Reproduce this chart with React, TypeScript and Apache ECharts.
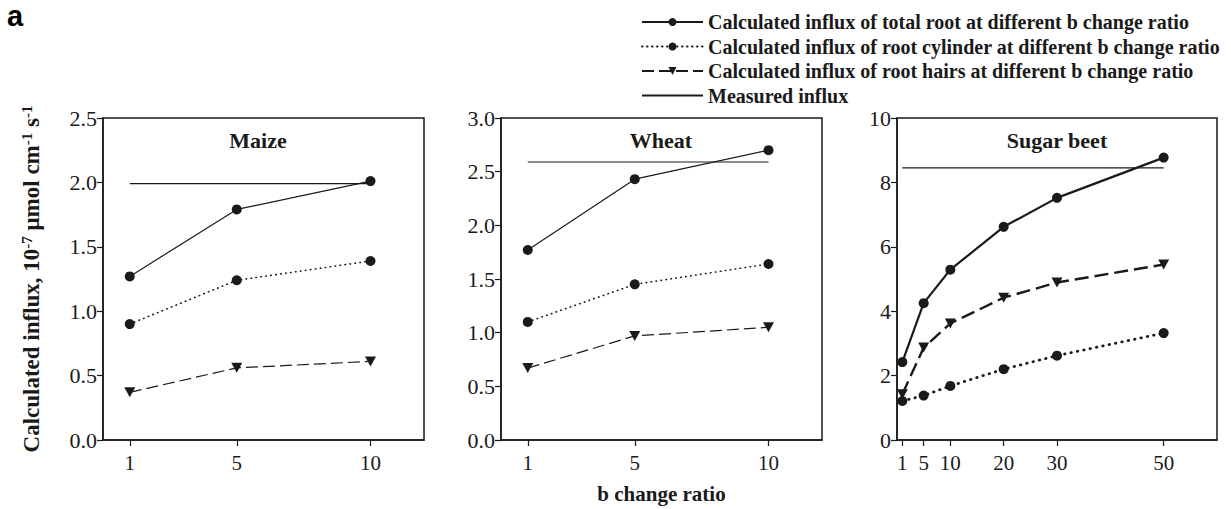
import React, { useEffect, useRef } from "react";
import * as echarts from "echarts";

// ---- data ----
const maizeX = [1, 5, 10];
const maizeTotal = [1.27, 1.79, 2.01];
const maizeCylinder = [0.9, 1.24, 1.39];
const maizeHairs = [0.37, 0.56, 0.61];
const maizeMeasured = 1.99;

const wheatX = [1, 5, 10];
const wheatTotal = [1.77, 2.43, 2.7];
const wheatCylinder = [1.1, 1.45, 1.64];
const wheatHairs = [0.67, 0.97, 1.05];
const wheatMeasured = 2.59;

const beetX = [1, 5, 10, 20, 30, 50];
const beetTotal = [2.42, 4.25, 5.29, 6.62, 7.52, 8.77];
const beetCylinder = [1.21, 1.38, 1.68, 2.2, 2.62, 3.32];
const beetHairs = [1.42, 2.87, 3.62, 4.42, 4.89, 5.45];
const beetMeasured = 8.45;

const panelTitles = ["Maize", "Wheat", "Sugar beet"];
const smallTicks = [1, 5, 10];
const beetTicks = [1, 5, 10, 20, 30, 50];

const NAME_TOTAL = "Calculated influx of total root at different b change ratio";
const NAME_CYL = "Calculated influx of root cylinder at different b change ratio";
const NAME_HAIRS = "Calculated influx of root hairs at different b change ratio";
const NAME_MEAS = "Measured influx";

const SERIF = "'Liberation Serif', 'Times New Roman', serif";
const INK = "#1a1a1a";

const zip = (xs: number[], ys: number[]) => xs.map((x, i) => [x, ys[i]]);

function App() {
  const ref = useRef<HTMLDivElement>(null);
  useEffect(() => {
    if (!ref.current) return;
    const chart = echarts.init(ref.current, null, { renderer: "svg" });

    const grids = [
      { left: 103, top: 118, width: 321, height: 322 },
      { left: 501, top: 118, width: 321, height: 322 },
      { left: 897, top: 118, width: 320, height: 322 },
    ].map((g) => ({ ...g, show: true, borderColor: INK, borderWidth: 1.5, backgroundColor: "transparent" }));

    const axisCommon = {
      axisLine: { show: true, onZero: false, lineStyle: { color: INK, width: 1.5 } },
      axisTick: { show: true, inside: false, length: 6, lineStyle: { color: INK, width: 1.2 } },
      splitLine: { show: false },
      axisLabel: { color: INK, fontFamily: SERIF, fontSize: 21 },
    };

    const xAxes = [
      { gridIndex: 0, max: 12, ticks: smallTicks },
      { gridIndex: 1, max: 12, ticks: smallTicks },
      { gridIndex: 2, max: 60, ticks: beetTicks },
    ].map((a, i) => ({
      type: "value",
      gridIndex: a.gridIndex,
      min: 0,
      max: a.max,
      ...axisCommon,
      axisTick: { ...axisCommon.axisTick, customValues: a.ticks },
      axisLabel: { ...axisCommon.axisLabel, margin: 12, customValues: a.ticks },
      ...(i === 1
        ? {
            name: "b change ratio",
            nameLocation: "middle",
            nameGap: 43,
            nameTextStyle: { fontFamily: SERIF, fontWeight: "bold", fontSize: 21, color: INK },
          }
        : {}),
    }));

    const yAxes = [
      { gridIndex: 0, max: 2.5, interval: 0.5, dec: 1 },
      { gridIndex: 1, max: 3.0, interval: 0.5, dec: 1 },
      { gridIndex: 2, max: 10, interval: 2, dec: 0 },
    ].map((a, i) => ({
      type: "value",
      gridIndex: a.gridIndex,
      min: 0,
      max: a.max,
      interval: a.interval,
      ...axisCommon,
      axisLabel: {
        ...axisCommon.axisLabel,
        fontSize: 22,
        margin: 6,
        formatter: (v: number) => v.toFixed(a.dec),
      },
      ...(i === 0
        ? {
            name: "Calculated influx, 10{sup|-7} μmol cm{sup|-1} s{sup|-1}",
            nameLocation: "middle",
            nameRotate: 90,
            nameGap: 60,
            nameTextStyle: {
              fontFamily: SERIF,
              fontWeight: "bold",
              fontSize: 23,
              color: INK,
              rich: {
                sup: {
                  fontFamily: SERIF,
                  fontWeight: "bold",
                  fontSize: 15,
                  color: INK,
                  verticalAlign: "top",
                  padding: [0, 0, 9, 0],
                },
              },
            },
          }
        : {}),
    }));

    const mk = (
      idx: number,
      xs: number[],
      total: number[],
      cyl: number[],
      hairs: number[],
      measured: number,
      thick: boolean
    ) => {
      const w = thick ? 2.2 : 1.2;
      return [
        {
          name: NAME_TOTAL,
          type: "line",
          xAxisIndex: idx,
          yAxisIndex: idx,
          data: zip(xs, total),
          symbol: "circle",
          symbolSize: 10,
          itemStyle: { color: INK },
          lineStyle: { color: INK, width: w, type: "solid" },
          z: 5,
        },
        {
          name: NAME_CYL,
          type: "line",
          xAxisIndex: idx,
          yAxisIndex: idx,
          data: zip(xs, cyl),
          symbol: "circle",
          symbolSize: 10,
          itemStyle: { color: INK },
          lineStyle: {
            color: INK,
            width: thick ? 2.8 : 1.6,
            cap: "round",
            type: thick ? [0.5, 6] : [0.5, 4.5],
          },
          z: 4,
        },
        {
          name: NAME_HAIRS,
          type: "line",
          xAxisIndex: idx,
          yAxisIndex: idx,
          data: zip(xs, hairs),
          symbol: "triangle",
          symbolRotate: 180,
          symbolSize: [11, 10],
          itemStyle: { color: INK },
          lineStyle: { color: INK, width: thick ? 2.4 : 1.2, type: thick ? [14, 6] : [12, 5] },
          z: 4,
        },
        {
          name: NAME_MEAS,
          type: "line",
          xAxisIndex: idx,
          yAxisIndex: idx,
          data: [
            [xs[0], measured],
            [xs[xs.length - 1], measured],
          ],
          symbol: "none",
          itemStyle: { color: INK, opacity: 0 },
          lineStyle: { color: INK, width: 1.2, type: "solid", opacity: 1 },
          z: 3,
        },
      ];
    };

    const series = [
      ...mk(0, maizeX, maizeTotal, maizeCylinder, maizeHairs, maizeMeasured, false),
      ...mk(1, wheatX, wheatTotal, wheatCylinder, wheatHairs, wheatMeasured, false),
      ...mk(2, beetX, beetTotal, beetCylinder, beetHairs, beetMeasured, true),
    ];

    const titleCenters = [258, 661, 1057];

    chart.setOption({
      animation: false,
      backgroundColor: "#ffffff",
      grid: grids,
      xAxis: xAxes,
      yAxis: yAxes,
      series,
      legend: {
        orient: "vertical",
        left: 636,
        top: 7,
        itemWidth: 61,
        itemHeight: 10,
        itemGap: 4.5,
        data: [NAME_TOTAL, NAME_CYL, NAME_HAIRS, NAME_MEAS],
        textStyle: { fontFamily: SERIF, fontWeight: "bold", fontSize: 20, color: INK },
        selectedMode: false,
      },
      graphic: [
        {
          type: "text",
          x: 7,
          y: 1,
          style: {
            text: "a",
            fontFamily: "'Liberation Sans', Arial, sans-serif",
            fontWeight: "bold",
            fontSize: 29,
            fill: "#000",
            align: "left",
            verticalAlign: "top",
          },
        },
        ...panelTitles.map((t, i) => ({
          type: "text",
          x: titleCenters[i],
          y: 140,
          style: {
            text: t,
            fontFamily: SERIF,
            fontWeight: "bold",
            fontSize: 22,
            fill: INK,
            align: "center",
            verticalAlign: "middle",
          },
        })),
      ],
    });

    return () => chart.dispose();
  }, []);

  return (
    <div
      ref={ref}
      style={{ position: "fixed", left: 0, top: 0, width: 1231, height: 509, background: "#fff" }}
    />
  );
}

export default App;
